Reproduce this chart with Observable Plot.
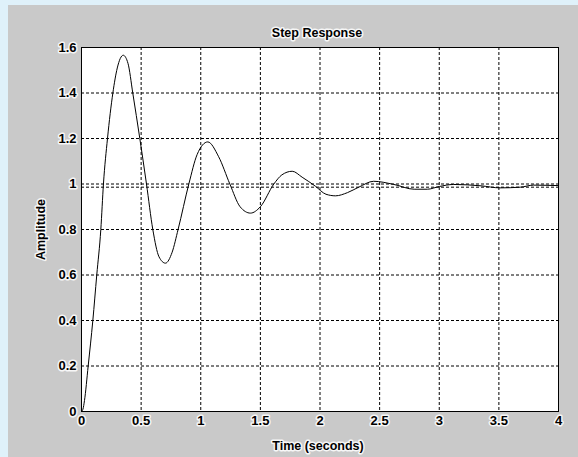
<!DOCTYPE html>
<html>
<head>
<meta charset="utf-8">
<script src="https://cdn.jsdelivr.net/npm/d3@7"></script>
<script src="https://cdn.jsdelivr.net/npm/@observablehq/plot@0.6"></script>
<style>
  html, body { margin: 0; padding: 0; background: #dff1fa; width: 578px; height: 457px; overflow: hidden; }
  #chart { position: absolute; left: 8px; top: 5px; }
  #chart svg text { paint-order: stroke; stroke: white; stroke-width: 3px; stroke-linejoin: round; stroke-opacity: 0.85; }
</style>
</head>
<body>
<div id="chart"></div>
<script>
// Step response
const time = [0, 0.012, 0.025, 0.056, 0.095, 0.128, 0.162, 0.184, 0.218, 0.263, 0.30, 0.35, 0.39, 0.43, 0.489, 0.545, 0.598, 0.65, 0.704, 0.76, 0.81, 0.90, 0.97, 1.059, 1.15, 1.244, 1.33, 1.417, 1.50, 1.613, 1.68, 1.767, 1.85, 1.962, 2.05, 2.13, 2.23, 2.325, 2.45, 2.62, 2.79, 2.90, 3.0, 3.12, 3.35, 3.51, 3.68, 3.79, 4.0];
const amplitude = [0, 0.01, 0.048, 0.2, 0.4, 0.6, 0.8, 1.0, 1.2, 1.4, 1.51, 1.566, 1.53, 1.4, 1.2, 1.0, 0.8, 0.68, 0.652, 0.70, 0.8, 1.0, 1.13, 1.185, 1.12, 1.0, 0.90, 0.872, 0.90, 1.0, 1.04, 1.056, 1.03, 0.99, 0.955, 0.948, 0.962, 0.986, 1.012, 0.998, 0.977, 0.977, 0.989, 0.998, 0.992, 0.983, 0.986, 0.995, 0.993];
const steadyState = [0.986];
const xTicks = [0, 0.5, 1, 1.5, 2, 2.5, 3, 3.5, 4];
const yTicks = [0, 0.2, 0.4, 0.6, 0.8, 1, 1.2, 1.4, 1.6];
const titleText = "Step Response";
const xLabel = "Time (seconds)";
const yLabel = "Amplitude";

const data = time.map((t, i) => ({t, a: amplitude[i]}));
const dash = "3,2";

const chart = Plot.plot({
  width: 570,
  height: 452,
  marginLeft: 73,
  marginTop: 42,
  marginRight: 20,
  marginBottom: 46,
  style: {background: "#c9c9c9", fontSize: "13px", fontWeight: "bold", fontFamily: "'Liberation Sans', Arial, sans-serif", color: "black"},
  x: {domain: [0, 4]},
  y: {domain: [0, 1.6]},
  marks: [
    Plot.frame({fill: "white"}),
    Plot.gridX(xTicks.slice(1, -1), {stroke: "black", strokeOpacity: 1, strokeWidth: 1, strokeDasharray: dash}),
    Plot.gridY(yTicks.slice(1, -1), {stroke: "black", strokeOpacity: 1, strokeWidth: 1, strokeDasharray: dash}),
    Plot.ruleY(steadyState, {stroke: "black", strokeWidth: 1, strokeDasharray: dash}),
    Plot.line(data, {x: "t", y: "a", stroke: "black", strokeWidth: 1, curve: "monotone-x"}),
    Plot.frame({stroke: "black", strokeWidth: 1}),
    Plot.axisX(xTicks, {tickSize: 0, tickPadding: 4, label: null, tickFormat: d3.format(""), fontWeight: "bold", fontSize: 13}),
    Plot.axisY(yTicks, {tickSize: 0, tickPadding: 5, label: null, tickFormat: d3.format(""), fontWeight: "bold", fontSize: 13}),
    Plot.text([titleText], {frameAnchor: "top", dy: -15, dx: -3, lineAnchor: "middle", fontWeight: "bold", fontSize: 12.5}),
    Plot.text([xLabel], {frameAnchor: "bottom", dy: 34, dx: -2, lineAnchor: "middle", textAnchor: "middle", fontWeight: "bold", fontSize: 12.5}),
    Plot.text([yLabel], {frameAnchor: "left", dx: -41, rotate: -90, lineAnchor: "middle", textAnchor: "middle", fontWeight: "bold", fontSize: 12.5})
  ]
});
document.getElementById("chart").appendChild(chart);
</script>
</body>
</html>
